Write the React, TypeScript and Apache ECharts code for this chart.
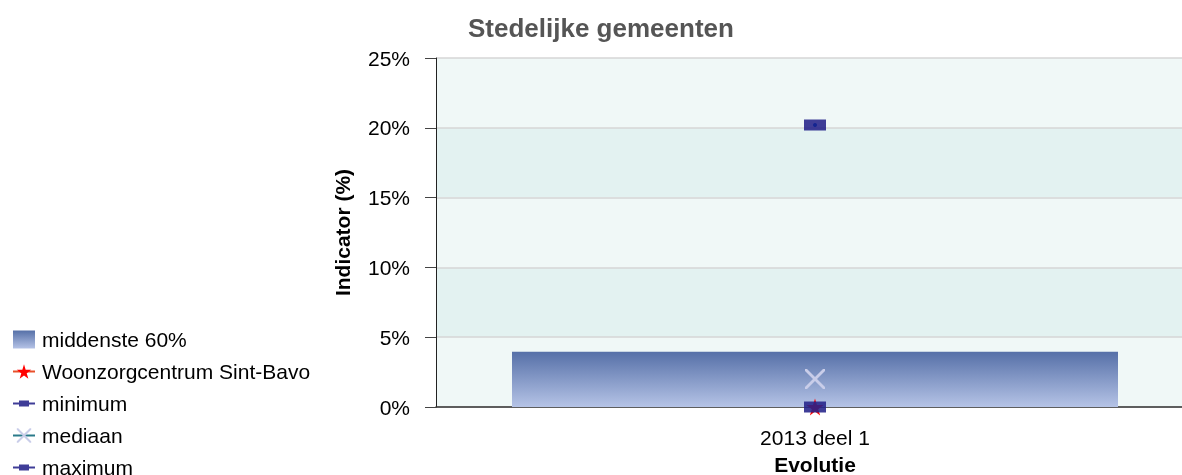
import React, { useEffect, useRef } from "react";
import * as echarts from "echarts";

const categories = ["2013 deel 1"];
const middenste60 = [3.95];
const sintBavo = [0];
const minimum = [0];
const mediaan = [2.0];
const maximum = [20.2];
const yTicks = { min: 0, max: 25, interval: 5 };

const FONT = "'Liberation Sans', Arial, sans-serif";
const STAR = "path://M50,0 L61,35 L98,35 L68,57 L79,91 L50,70 L21,91 L32,57 L2,35 L39,35 Z";
const CROSS = "path://M0,0 L2,0 L10,8 L18,0 L20,0 L20,2 L12,10 L20,18 L20,20 L18,20 L10,12 L2,20 L0,20 L0,18 L8,10 L0,2 Z";
const LINE_RECT_ICON = "path://M0,8 L6,8 L6,6 L16,6 L16,8 L22,8 L22,10 L16,10 L16,12 L6,12 L6,10 L0,10 Z";

export default function App() {
  const ref = useRef<HTMLDivElement>(null);
  useEffect(() => {
    if (!ref.current) return;
    const chart = echarts.init(ref.current, undefined, { renderer: "svg" });
    const grad = new echarts.graphic.LinearGradient(0, 0, 0, 1, [
      { offset: 0, color: "#5670a8" },
      { offset: 1, color: "#b5c3e6" },
    ]);
    chart.setOption({
      animation: false,
      textStyle: { fontFamily: FONT },
      title: {
        text: "Stedelijke gemeenten",
        left: 463,
        top: 10,
        textStyle: { fontSize: 26, fontWeight: "bold", color: "#555555", fontFamily: FONT },
      },
      legend: {
        orient: "vertical",
        left: 12,
        top: 329,
        padding: 0,
        height: 300,
        itemWidth: 22,
        itemHeight: 18,
        itemGap: 11,
        textStyle: { fontSize: 21, color: "#000", fontFamily: FONT, padding: [0, 0, 0, 2] },
        data: [
          { name: "middenste 60%", icon: "rect" },
          "Woonzorgcentrum Sint-Bavo",
          { name: "minimum", icon: LINE_RECT_ICON },
          "mediaan",
          { name: "maximum", icon: LINE_RECT_ICON },
        ],
      },
      grid: { left: 436, right: -12, top: 58, bottom: 68, outerBoundsMode: "none" },
      xAxis: {
        type: "category",
        data: categories,
        axisLine: { lineStyle: { color: "#333", width: 1.5 } },
        axisTick: { alignWithLabel: true, length: 10, lineStyle: { color: "#888" } },
        axisLabel: { fontSize: 21, color: "#000", margin: 20, fontFamily: FONT },
        name: "Evolutie",
        nameLocation: "middle",
        nameGap: 47,
        nameTextStyle: { fontSize: 21, fontWeight: "bold", color: "#000", fontFamily: FONT },
      },
      yAxis: {
        type: "value",
        min: yTicks.min,
        max: yTicks.max,
        interval: yTicks.interval,
        axisLine: { show: true, lineStyle: { color: "#222" } },
        axisTick: { show: true, length: 11, lineStyle: { color: "#444" } },
        axisLabel: { formatter: "{value}%", fontSize: 21, color: "#000", margin: 26, fontFamily: FONT },
        splitLine: { show: true, lineStyle: { color: "#d6d6d6", width: 1.5 } },
        splitArea: { show: true, areaStyle: { color: ["#f0f8f7", "#e3f2f1"] } },
        name: "Indicator (%)",
        nameLocation: "middle",
        nameGap: 83,
        nameRotate: 90,
        nameTextStyle: { fontSize: 21, fontWeight: "bold", color: "#000", fontFamily: FONT },
      },
      series: [
        {
          name: "middenste 60%",
          type: "bar",
          data: middenste60,
          barWidth: 606,
          itemStyle: { color: grad },
        },
        {
          name: "Woonzorgcentrum Sint-Bavo",
          type: "line",
          data: sintBavo,
          symbol: STAR,
          symbolSize: 17,
          itemStyle: { color: "#ff0000" },
          lineStyle: { color: "#e8502a", width: 2 },
          z: 3,
        },
        {
          name: "minimum",
          type: "line",
          data: minimum,
          symbol: "rect",
          symbolSize: [22, 11],
          itemStyle: { color: "rgba(36,34,138,0.88)" },
          lineStyle: { color: "#2858b0", width: 2 },
          z: 4,
        },
        {
          name: "mediaan",
          type: "line",
          data: mediaan,
          symbol: CROSS,
          symbolSize: 20,
          itemStyle: { color: "#c9cde9" },
          lineStyle: { color: "#2a7a8a", width: 2 },
          z: 4,
        },
        {
          name: "maximum",
          type: "line",
          data: maximum,
          symbol: "rect",
          symbolSize: [22, 11],
          itemStyle: { color: "rgba(36,34,138,0.88)" },
          lineStyle: { color: "#2858b0", width: 2 },
          z: 4,
        },
        {
          name: "",
          type: "scatter",
          data: maximum,
          symbol: "circle",
          symbolSize: 4,
          itemStyle: { color: "#0a1f8f" },
          z: 5,
        },
      ],
    });
    return () => chart.dispose();
  }, []);
  return (
    <div
      ref={ref}
      style={{ position: "fixed", left: 0, top: 0, width: 1182, height: 475 }}
    />
  );
}
